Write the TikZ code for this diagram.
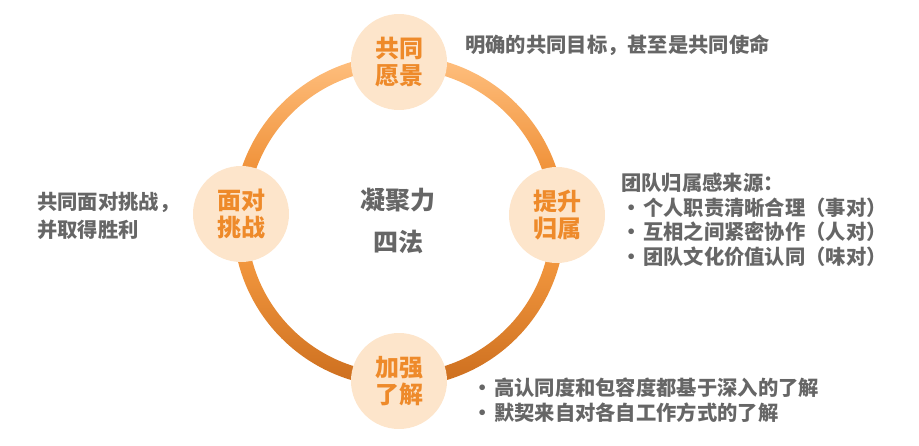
\documentclass[tikz,border=0pt]{standalone}
\usepackage{fontspec}
\setmainfont{Noto Sans CJK SC}
\usepackage{tikz}
\definecolor{ringlight}{HTML}{FFC080}
\definecolor{ringmid}{HTML}{EA801E}
\definecolor{ringsoft}{HTML}{FFA54A}
\definecolor{ringdark}{HTML}{CC6E1E}
\definecolor{peach}{HTML}{FDE5CB}
\definecolor{deeporange}{HTML}{EE8A2A}
\definecolor{textgray}{HTML}{666666}
\tikzset{
  stage/.style={circle, fill=peach, minimum size=96pt, inner sep=0pt,
    text=deeporange, font=\fontsize{24}{27}\selectfont\bfseries, align=center},
  note/.style={text=textgray, font=\fontsize{20.3}{24.5}\selectfont\bfseries,
    align=left, inner sep=0pt, anchor=west},
}
\newcommand{\bul}{\makebox[22pt][l]{•}}

\begin{document}
\begin{tikzpicture}[x=1pt,y=-1pt]
    \useasboundingbox (0,0) rectangle (919,445);
    \def\rout{166pt}
    \def\rin{152pt}
    \coordinate (c) at (399,221);
    % the ring, upper and lower halves shaded apart
    \begin{scope}[even odd rule]
      \clip (c) circle (\rout) (c) circle (\rin);
      \shade[top color=ringlight, bottom color=ringmid] (233,55) rectangle (565,215);
      \shade[top color=ringsoft, bottom color=ringdark] (233,215) rectangle (565,387);
    \end{scope}
    % the four stages
    \node[stage] (vision) at (399,62) {共同\\愿景};
    \node[stage] (belong) at (557,215) {提升\\归属};
    \node[stage] (face) at (241,214) {面对\\挑战};
    \node[stage] (know) at (399,381) {加强\\了解};
    \node[text=textgray, font=\fontsize{25}{42}\selectfont\bfseries, align=center] (title) at (398,221) {凝聚力\\四法};
    % notes
    \node[note] (visionnote) at (465,45) {明确的共同目标，甚至是共同使命};
    \node[note] (facenote) at (37,216) {共同面对挑战，\\[3.5pt]并取得胜利};
    \node[note] (belongnote) at (621,220) {团队归属感来源：\\
      \bul 个人职责清晰合理（事对）\\
      \bul 互相之间紧密协作（人对）\\
      \bul 团队文化价值认同（味对）};
    \node[note] (knownote) at (472,400) {\bul 高认同度和包容度都基于深入的了解\\[0.5pt]
      \bul 默契来自对各自工作方式的了解};
  \end{tikzpicture}
\end{document}
